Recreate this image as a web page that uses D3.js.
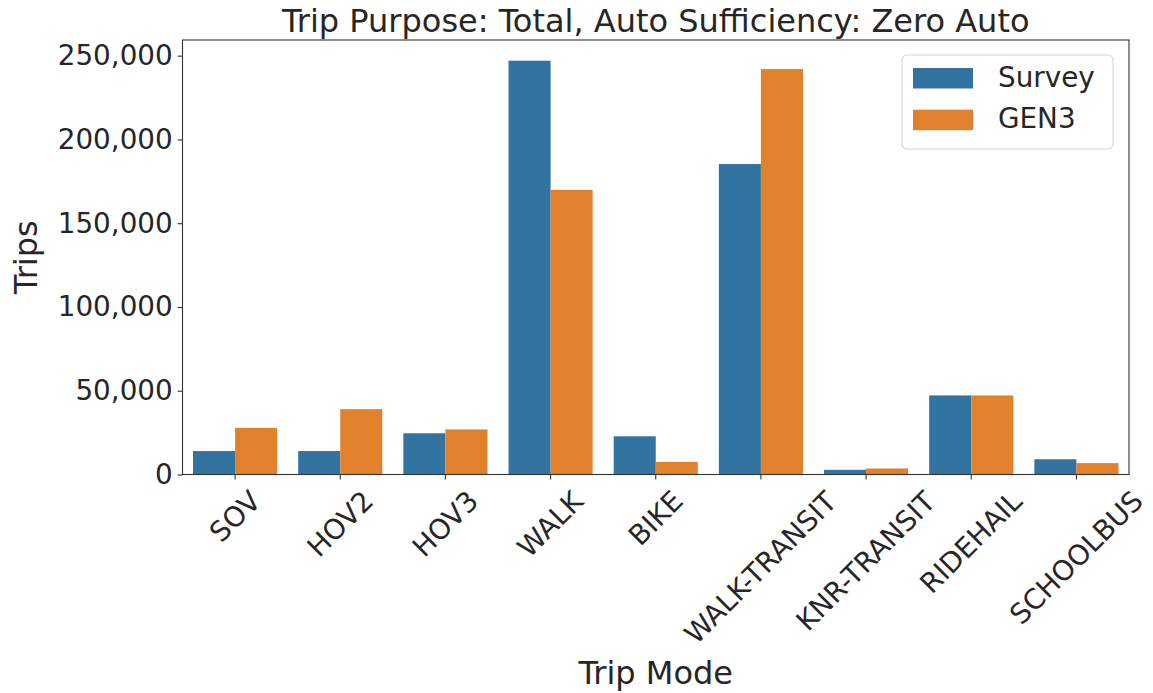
<!DOCTYPE html>
<html>
<head>
<meta charset="utf-8">
<script src="https://cdn.jsdelivr.net/npm/d3@7"></script>
<style>
  html, body { margin: 0; padding: 0; background: #fff; }
  svg { display: block; font-family: "DejaVu Sans", sans-serif; }
</style>
</head>
<body>
<svg id="chart" width="1153" height="693"></svg>
<script>
// Trip counts by mode, zero-auto households, all purposes
const modes = ["SOV", "HOV2", "HOV3", "WALK", "BIKE", "WALK-TRANSIT", "KNR-TRANSIT", "RIDEHAIL", "SCHOOLBUS"];
const seriesNames = ["Survey", "GEN3"];
const surveyTrips = [14000, 14000, 24600, 247000, 22800, 185300, 2800, 47200, 9100];
const gen3Trips   = [27900, 39000, 26900, 169900, 7500, 242000, 3600, 47200, 6800];
const yTickValues = [0, 50000, 100000, 150000, 200000, 250000];
const seriesColors = ["#3274a1", "#e1812c"];

const W = 1153, H = 693;
const plot = { left: 182.5, right: 1129, top: 40, bottom: 474.5 };

const svg = d3.select("#chart");

const rows = modes.map((m, i) => ({ mode: m, values: [surveyTrips[i], gen3Trips[i]] }));
const yMax = d3.max([...surveyTrips, ...gen3Trips]) * 1.05;

const x = d3.scaleBand().domain(modes).range([plot.left, plot.right]).paddingInner(0).paddingOuter(0);
const xInner = d3.scaleBand().domain(seriesNames).range([0, x.bandwidth() * 0.8]);
const y = d3.scaleLinear().domain([0, yMax]).range([plot.bottom, plot.top]);

// bars
const groups = svg.append("g").selectAll("g")
  .data(rows).join("g")
  .attr("transform", d => `translate(${x(d.mode) + x.bandwidth() * 0.1},0)`);

groups.selectAll("rect")
  .data(d => d.values.map((v, k) => ({ key: seriesNames[k], value: v, k })))
  .join("rect")
  .attr("x", d => xInner(d.key))
  .attr("width", xInner.bandwidth())
  .attr("y", d => y(d.value))
  .attr("height", d => y(0) - y(d.value))
  .attr("fill", d => seriesColors[d.k]);

// y axis
const fmt = d3.format(",");
const yAxis = d3.axisLeft(y).tickValues(yTickValues).tickFormat(fmt).tickSize(4.9).tickPadding(4.9);
const gy = svg.append("g").attr("transform", `translate(${plot.left},0)`).call(yAxis);
gy.select(".domain").remove();
gy.selectAll(".tick line").attr("stroke", "#333").attr("stroke-width", 1.1);
gy.selectAll(".tick text").attr("font-size", "27.8px").attr("fill", "#262626")
  .attr("font-family", "DejaVu Sans, sans-serif");

// x axis ticks
const xAxis = d3.axisBottom(x).tickSize(4.9).tickFormat("");
const gx = svg.append("g").attr("transform", `translate(0,${plot.bottom})`).call(xAxis);
gx.select(".domain").remove();
gx.selectAll(".tick line").attr("stroke", "#333").attr("stroke-width", 1.1);

// rotated x tick labels, bounding box centred under each tick
const labelTop = plot.bottom + 4.9 + 4.9;
modes.forEach(m => {
  const outer = svg.append("g").attr("transform", `translate(${x(m) + x.bandwidth() / 2},${labelTop})`);
  const inner = outer.append("g");
  inner.append("text")
    .attr("transform", "rotate(-45)")
    .attr("text-anchor", "end")
    .attr("dy", "0.35em")
    .attr("font-size", "27.8px")
    .attr("fill", "#262626")
    .text(m);
  const bb = inner.node().getBBox();
  inner.attr("transform", `translate(${-(bb.x + bb.width / 2)},${-bb.y})`);
});

// frame
svg.append("rect")
  .attr("x", plot.left).attr("y", plot.top)
  .attr("width", plot.right - plot.left).attr("height", plot.bottom - plot.top)
  .attr("fill", "none").attr("stroke", "#333").attr("stroke-width", 1.1);

// title and axis labels
svg.append("text")
  .attr("x", (plot.left + plot.right) / 2).attr("y", 32)
  .attr("text-anchor", "middle").attr("font-size", "32px").attr("fill", "#262626")
  .text("Trip Purpose: Total, Auto Sufficiency: Zero Auto");

svg.append("text")
  .attr("x", (plot.left + plot.right) / 2).attr("y", 684)
  .attr("text-anchor", "middle").attr("font-size", "32px").attr("fill", "#262626")
  .text("Trip Mode");

svg.append("text")
  .attr("transform", `translate(37,${(plot.top + plot.bottom) / 2}) rotate(-90)`)
  .attr("text-anchor", "middle").attr("font-size", "32px").attr("fill", "#262626")
  .text("Trips");

// legend
const legend = svg.append("g").attr("transform", "translate(902,55)");
legend.append("rect")
  .attr("width", 211).attr("height", 94).attr("rx", 5).attr("ry", 5)
  .attr("fill", "#fff").attr("fill-opacity", 0.8)
  .attr("stroke", "#d5d5d5").attr("stroke-width", 1.1);
seriesNames.forEach((name, i) => {
  const row = legend.append("g").attr("transform", `translate(11,${13 + i * 41.7})`);
  row.append("rect").attr("width", 60).attr("height", 20.5).attr("fill", seriesColors[i]);
  row.append("text").attr("x", 85).attr("y", 18.5)
    .attr("font-size", "27.8px").attr("fill", "#262626").text(name);
});
</script>
</body>
</html>
